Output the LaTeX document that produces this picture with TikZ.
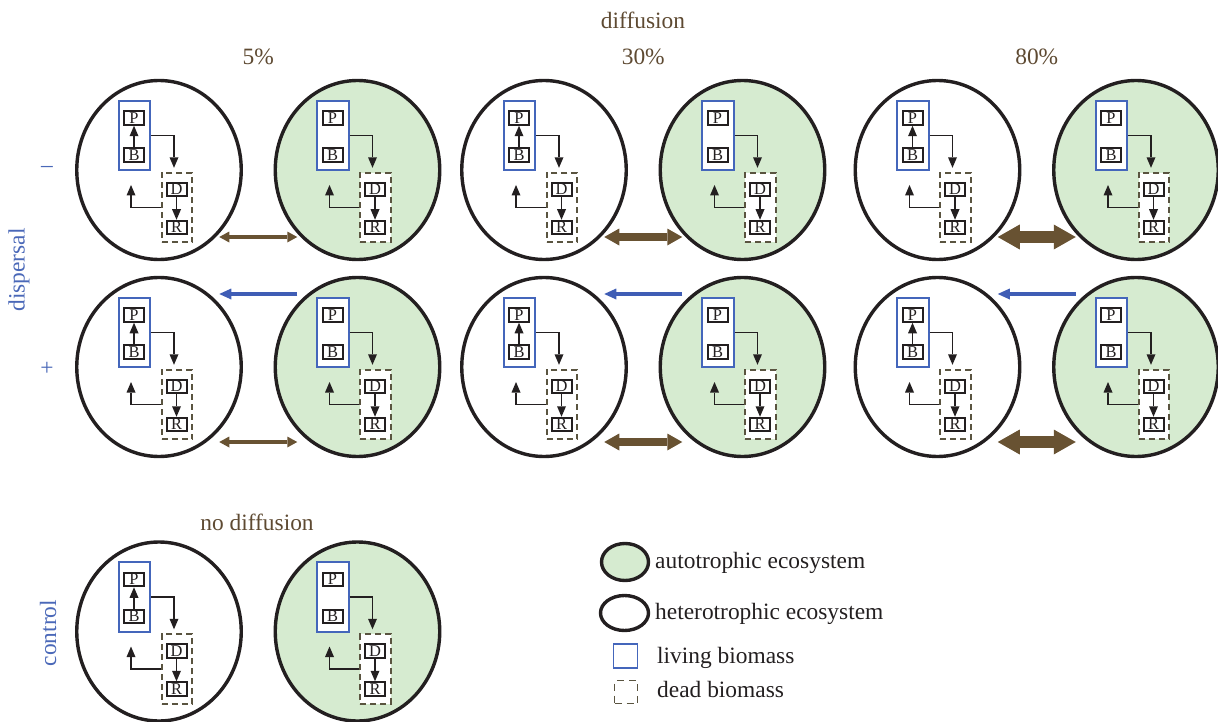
\documentclass[tikz,border=0pt]{standalone}
\usepackage{fontspec}
\setmainfont{Liberation Serif}
\usetikzlibrary{arrows.meta,shapes.geometric,calc}
\definecolor{ecoGreen}{HTML}{D6EBD0}
\definecolor{liveBlue}{HTML}{4466BB}
\definecolor{deadOlive}{HTML}{5A5440}
\definecolor{diffBrown}{HTML}{685232}
\definecolor{dispBlue}{HTML}{3F5DB5}
\definecolor{labBrown}{HTML}{5E4A32}
\definecolor{labBlue}{HTML}{4A68B8}
\definecolor{ink}{HTML}{231F20}
\tikzset{
  eco/.style={ellipse, draw=ink, line width=3.4bp, minimum width=164.5bp, minimum height=179bp, inner sep=0pt},
  livebox/.style={draw=liveBlue, fill=white, line width=1.9bp, minimum width=31.5bp, minimum height=69.5bp, inner sep=0pt},
  deadbox/.style={draw=deadOlive, fill=white, line width=1.9bp, dash pattern=on 6bp off 4bp, minimum width=30.5bp, minimum height=69.5bp, inner sep=0pt},
  pool/.style={draw=ink, text=ink, fill=white, line width=2bp, minimum width=20bp, minimum height=13.5bp, inner sep=0pt, font=\fontsize{16.5}{16.5}\selectfont},
  flow/.style={draw=ink, line width=1.8bp, -{Triangle[length=10.5bp,width=9bp,line width=0pt]}},
  lab/.style={font=\fontsize{23.5}{28}\selectfont, inner sep=0pt},
  dfive/.style={draw=diffBrown, line width=4bp, {Triangle[length=10bp,width=11bp,line width=0pt]}-{Triangle[length=10bp,width=11bp,line width=0pt]}},
  dthirty/.style={draw=diffBrown, line width=8bp, {Triangle[length=15bp,width=17bp,line width=0pt]}-{Triangle[length=15bp,width=17bp,line width=0pt]}},
  deighty/.style={draw=diffBrown, line width=12bp, {Triangle[length=22bp,width=25bp,line width=0pt]}-{Triangle[length=22bp,width=25bp,line width=0pt]}},
  disp/.style={draw=dispBlue, line width=4.5bp, -{Triangle[length=12bp,width=11bp,line width=0pt]}},
}
% #1 name, #2 x, #3 y, #4 fill, #5 1 = draw B->P arrow
\newcommand\ecoSys[5]{%
  \node[eco, fill=#4] (#1) at (#2,#3) {};
  \begin{scope}[shift={(#2,#3)}]
    \node[livebox] (#1L) at (-24.5,-34.5) {};
    \node[deadbox] (#1X) at (18,37.5) {};
    \node[pool] (#1P) at (-25,-52) {P};
    \node[pool] (#1B) at (-25,-15) {B};
    \node[pool] (#1D) at (17.5,19.5) {D};
    \node[pool] (#1R) at (17.5,57.5) {R};
    \coordinate (#1r) at (-28,15);
    \ifnum#5=1 \draw[flow] (#1B) -- (#1P);\fi
    \draw[flow] (#1D) -- (#1R);
    \draw[flow, shorten >=4bp] (#1L.east) -| ([xshift=-3bp]#1X.north);
    \draw[flow] (#1X.west) -| (#1r);
  \end{scope}
}
\begin{document}
\begin{tikzpicture}[x=1bp,y=-1bp]
\useasboundingbox (0,0) rectangle (1218,722);
% rows of ecosystems
\foreach \c/\xl/\xr/\sty/\lbl in {1/159/357.5/dfive/5\%, 2/544/742.5/dthirty/30\%, 3/937.5/1136/deighty/80\%}{
  \ecoSys{th\c}{\xl}{170}{white}{1}
  \ecoSys{ta\c}{\xr}{170}{ecoGreen}{0}
  \ecoSys{bh\c}{\xl}{367}{white}{1}
  \ecoSys{ba\c}{\xr}{367}{ecoGreen}{0}
  \coordinate (tdl\c) at ($(th\c)!0.5!(ta\c)+(-39,67)$);
  \coordinate (tdr\c) at ($(th\c)!0.5!(ta\c)+(39,67)$);
  \coordinate (bdl\c) at ($(bh\c)!0.5!(ba\c)+(-39,75)$);
  \coordinate (bdr\c) at ($(bh\c)!0.5!(ba\c)+(39,75)$);
  \coordinate (bpl\c) at ($(bh\c)!0.5!(ba\c)+(-39,-73)$);
  \coordinate (bpr\c) at ($(bh\c)!0.5!(ba\c)+(39,-73)$);
  \draw[\sty] (tdl\c) -- (tdr\c);
  \draw[\sty] (bdl\c) -- (bdr\c);
  \draw[disp] (bpr\c) -- (bpl\c);
  \node[lab, text=labBrown] (pct\c) at ($(th\c)!0.5!(ta\c)+(0,-113)$) {\lbl};
}
% control row
\ecoSys{ch}{159}{631.5}{white}{1}
\ecoSys{ca}{357.5}{631.5}{ecoGreen}{0}
% labels
\node[lab, text=labBrown] (difflab) at (643,20) {diffusion};
\node[lab, text=labBrown] (nodiff) at (257,522) {no diffusion};
\node[lab, text=labBlue, rotate=90] (displab) at (19,270) {dispersal};
\node[lab, text=labBlue] (minus) at (47,169) {–};
\node[lab, text=labBlue] (plus) at (47,369) {+};
\node[lab, text=labBlue, rotate=90] (ctrl) at (48,633) {control};
% legend
\node[eco, fill=ecoGreen, minimum width=47bp, minimum height=37bp] (lga) at (625,562) {};
\node[eco, fill=white, minimum width=48bp, minimum height=35bp] (lgh) at (624.5,613) {};
\node[livebox, minimum width=24bp, minimum height=24bp] (lgl) at (625.5,656) {};
\node[deadbox, dash pattern=on 7bp off 5bp, minimum width=23bp, minimum height=23bp] (lgd) at (626,692) {};
\node[lab, text=ink, anchor=base west] (lta) at (655,568) {autotrophic ecosystem};
\node[lab, text=ink, anchor=base west] (lth) at (655,619) {heterotrophic ecosystem};
\node[lab, text=ink, anchor=base west] (ltl) at (657,663) {living biomass};
\node[lab, text=ink, anchor=base west] (ltd) at (657,697) {dead biomass};
\end{tikzpicture}
\end{document}
